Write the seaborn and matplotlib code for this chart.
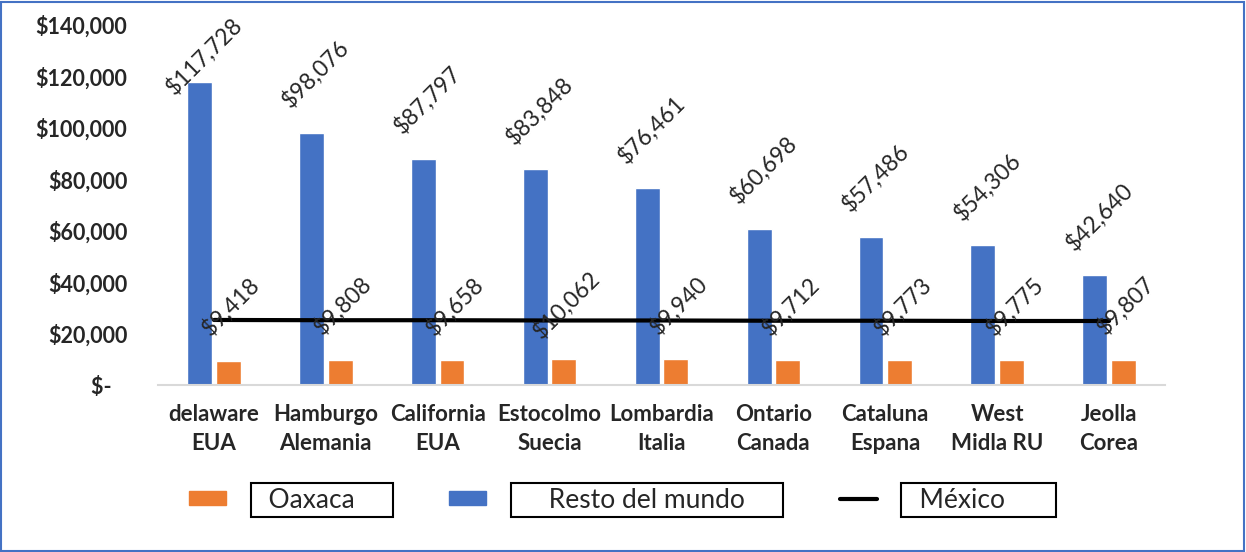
import numpy as np
import pandas as pd
import seaborn as sns
import matplotlib.pyplot as plt
from matplotlib.ticker import FuncFormatter
from matplotlib.lines import Line2D
from matplotlib.patches import Patch, Rectangle

# datos
regiones = ["delaware\nEUA", "Hamburgo\nAlemania", "California\nEUA", "Estocolmo\nSuecia",
            "Lombardia\nItalia", "Ontario\nCanada", "Cataluna\nEspana", "West\nMidla RU", "Jeolla\nCorea"]
resto_mundo = [117728, 98076, 87797, 83848, 76461, 60698, 57486, 54306, 42640]
oaxaca = [9418, 9808, 9658, 10062, 9940, 9712, 9773, 9775, 9807]
mexico = [25300, 25200, 25200, 25100, 25100, 25000, 25000, 24900, 24900]

AZUL = "#4472C4"
NARANJA = "#ED7D31"


def main():
    sns.set_style("white")
    plt.rcParams['font.family'] = ['Lato', 'DejaVu Sans']

    df = pd.DataFrame({
        "region": regiones * 2,
        "serie": ["Resto del mundo"] * len(regiones) + ["Oaxaca"] * len(regiones),
        "valor": resto_mundo + oaxaca,
    })

    fig = plt.figure(figsize=(12.46, 5.52), dpi=100)
    ax = fig.add_axes([0.1268, 0.3025, 0.8082, 0.6522])

    sns.barplot(data=df, x="region", y="valor", hue="serie", order=regiones,
                hue_order=["Resto del mundo", "Oaxaca"], palette=[AZUL, NARANJA],
                saturation=1, width=0.51, gap=0.125, legend=False, ax=ax)
    x = np.arange(len(regiones))
    sns.lineplot(x=x, y=mexico, color="black", linewidth=3, ax=ax)

    ax.set_xlim(-0.5, len(regiones) - 0.5)
    ax.set_ylim(0, 140000)
    ax.set_yticks(range(0, 140001, 20000))
    ax.yaxis.set_major_formatter(FuncFormatter(lambda v, p: "$-   " if v == 0 else f"${v:,.0f}"))
    ax.set_xticks(x)
    ax.set_xticklabels(regiones)
    ax.tick_params(axis="y", length=0, pad=22, labelsize=15.5)
    ax.tick_params(axis="x", length=0, pad=14, labelsize=16)
    for t in ax.get_xticklabels() + ax.get_yticklabels():
        t.set_fontweight("bold")
    for t in ax.get_xticklabels():
        t.set_linespacing(1.45)
    ax.set_xlabel("")
    ax.set_ylabel("")
    for s in ["top", "right", "left"]:
        ax.spines[s].set_visible(False)
    ax.spines["bottom"].set_color("#D9D9D9")
    ax.spines["bottom"].set_linewidth(1.5)

    # etiquetas
    for bar, v in zip(ax.containers[0], resto_mundo):
        cx = bar.get_x() + bar.get_width() / 2
        ax.annotate(f"${v:,}", (cx, min(v + 23000, 128000)), xytext=(3, 0), textcoords="offset points",
                    ha="center", va="center", rotation=45, rotation_mode="anchor", fontsize=16.5)
    for bar, v in zip(ax.containers[1], oaxaca):
        cx = bar.get_x() + bar.get_width() / 2
        ax.annotate(f"${v:,}", (cx, v + 21000), xytext=(2, 0), textcoords="offset points",
                    ha="center", va="center", rotation=45, rotation_mode="anchor", fontsize=16.5)

    # leyenda
    handles = [Patch(color=NARANJA), Patch(color=AZUL), Line2D([], [], color="black", lw=3)]
    labels = ["  Oaxaca     ", "     Resto del mundo     ", "  México       "]
    leg = fig.legend(handles, labels, loc="center", bbox_to_anchor=(0.498, 0.094), ncol=3,
                     frameon=False, fontsize=19, handlelength=1.4, handleheight=0.45,
                     handletextpad=1.1, columnspacing=2.3)
    for t in leg.get_texts():
        t.set_bbox(dict(boxstyle="square,pad=0.16", facecolor="white", edgecolor="black", linewidth=1.5))

    fig.patches.append(Rectangle((0.001, 0.002), 0.997, 0.995, transform=fig.transFigure,
                                 fill=False, edgecolor=AZUL, linewidth=1.5))

    fig.savefig("out.png", dpi=100)


if __name__ == "__main__":
    main()
